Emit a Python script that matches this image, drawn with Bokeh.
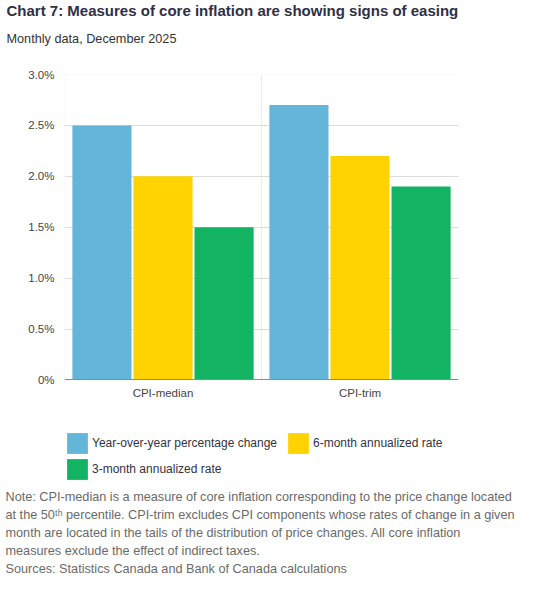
from bokeh.plotting import figure
from bokeh.models import (ColumnDataSource, FactorRange, Range1d, Legend, LegendItem, Title,
                          BoxAnnotation, FixedTicker, CustomJSTickFormatter)
from bokeh.transform import dodge
from bokeh.embed import file_html
from bokeh.resources import INLINE

# ---- data ----
categories = ["CPI-median", "CPI-trim"]
yoy = [2.5, 2.7]
six_month = [2.0, 2.2]
three_month = [1.5, 1.9]
y_ticks = [0, 0.5, 1.0, 1.5, 2.0, 2.5, 3.0]
series_names = ["Year-over-year percentage change", "6-month annualized rate", "3-month annualized rate"]
series_colors = ["#64b5da", "#fed300", "#12b464"]

title_text = "Chart 7: Measures of core inflation are showing signs of easing"
subtitle_text = "Monthly data, December 2025"
note_lines = [
    "Note: CPI-median is a measure of core inflation corresponding to the price change located",
    "at the 50\u1d57\u02b0 percentile. CPI-trim excludes CPI components whose rates of change in a given",
    "month are located in the tails of the distribution of price changes. All core inflation",
    "measures exclude the effect of indirect taxes.",
    "Sources: Statistics Canada and Bank of Canada calculations",
]

FONT = "Liberation Sans"
W, H = 540, 577
FRAME_LEFT, FRAME_RIGHT = 64, 458
CHART_TOP, CHART_BOTTOM, FRAME_BOTTOM = 76, 377, 483   # pixel layout
y_max = max(y_ticks)
y_start = -y_max * (FRAME_BOTTOM - CHART_BOTTOM) / (CHART_BOTTOM - CHART_TOP)

source = ColumnDataSource(data=dict(cat=categories, yoy=yoy, six=six_month, three=three_month))

p = figure(width=W, height=H, x_range=FactorRange(*categories, range_padding=0),
           y_range=Range1d(y_start, y_max), output_backend="svg", toolbar_location=None)
p.min_border_left = FRAME_LEFT
p.min_border_right = W - FRAME_RIGHT
p.min_border_top = 0
p.min_border_bottom = 0
p.outline_line_color = None

r1 = p.vbar(x=dodge("cat", -0.31, range=p.x_range), top="yoy", width=0.3, source=source,
            fill_color=series_colors[0], line_color=None)
r2 = p.vbar(x=dodge("cat", 0.0, range=p.x_range), top="six", width=0.3, source=source,
            fill_color=series_colors[1], line_color=None)
r3 = p.vbar(x=dodge("cat", 0.31, range=p.x_range), top="three", width=0.3, source=source,
            fill_color=series_colors[2], line_color=None)

# grid and chart box (bounded to the value range 0..3)
p.xgrid.grid_line_color = None
p.ygrid.grid_line_color = "#dcdcdc"
p.ygrid.ticker = FixedTicker(ticks=y_ticks)
p.add_layout(BoxAnnotation(left=0, right=len(categories), bottom=0, top=y_max,
                           fill_alpha=0, line_color="#d9d9d9", line_width=1, level="underlay"))
for i in range(1, len(categories)):
    p.add_layout(BoxAnnotation(left=i, right=i, bottom=0, top=y_max,
                               fill_alpha=0, line_color="#d9d9d9", line_width=1, level="underlay"))

p.yaxis.ticker = FixedTicker(ticks=y_ticks)
p.yaxis.formatter = CustomJSTickFormatter(code="return tick == 0 ? '0%' : tick.toFixed(1) + '%';")
p.yaxis.axis_line_color = None
p.yaxis.major_tick_line_color = None
p.yaxis.major_tick_out = 0
p.yaxis.minor_tick_line_color = None
p.yaxis.minor_tick_out = 0
p.yaxis.major_label_standoff = 10
p.yaxis.major_label_text_font = FONT
p.yaxis.major_label_text_font_size = "11.5px"
p.yaxis.major_label_text_color = "#444444"

p.xaxis.fixed_location = 0
p.xaxis.axis_line_color = "#8c8c8c"
p.xaxis.major_tick_line_color = None
p.xaxis.major_tick_out = 0
p.xaxis.minor_tick_line_color = None
p.xaxis.minor_tick_out = 0
p.xaxis.major_label_standoff = 7
p.xaxis.major_label_text_font = FONT
p.xaxis.major_label_text_font_size = "11.5px"
p.xaxis.major_label_text_color = "#444444"

def title(text, size, color, standoff, style="normal", x=6):
    return Title(text=text, text_font=FONT, text_font_size=size, text_color=color,
                 text_font_style=style, align="left", offset=x - FRAME_LEFT,
                 vertical_align="middle", standoff=standoff)

# header (first added = nearest to the frame)
p.add_layout(title(" ", "4px", "#ffffff", 9), "above")
p.add_layout(title(subtitle_text, "12.7px", "#333333", 22.5), "above")
p.add_layout(title(title_text, "15px", "#2f3046", 0, style="bold"), "above")

# legend (inside the frame, under the category labels)
def legend_row(items, y):
    return Legend(items=items, orientation="horizontal", location=(0, y),
                  glyph_width=26, glyph_height=26, label_standoff=2, spacing=8,
                  padding=0, margin=0, border_line_color=None, background_fill_alpha=0,
                  label_text_font=FONT, label_text_font_size="12px",
                  label_text_color="#333340")

p.add_layout(legend_row([LegendItem(label=series_names[0], renderers=[r1]),
                         LegendItem(label=series_names[1], renderers=[r2])], 31))
p.add_layout(legend_row([LegendItem(label=series_names[2], renderers=[r3])], 5))

# notes below (the axis panel comes first)
NC = "#6a6a6a"
for line in note_lines:
    p.add_layout(title(line, "12.7px", NC, 2, x=5), "below")

open("out.html", "w").write(file_html(p, INLINE))
